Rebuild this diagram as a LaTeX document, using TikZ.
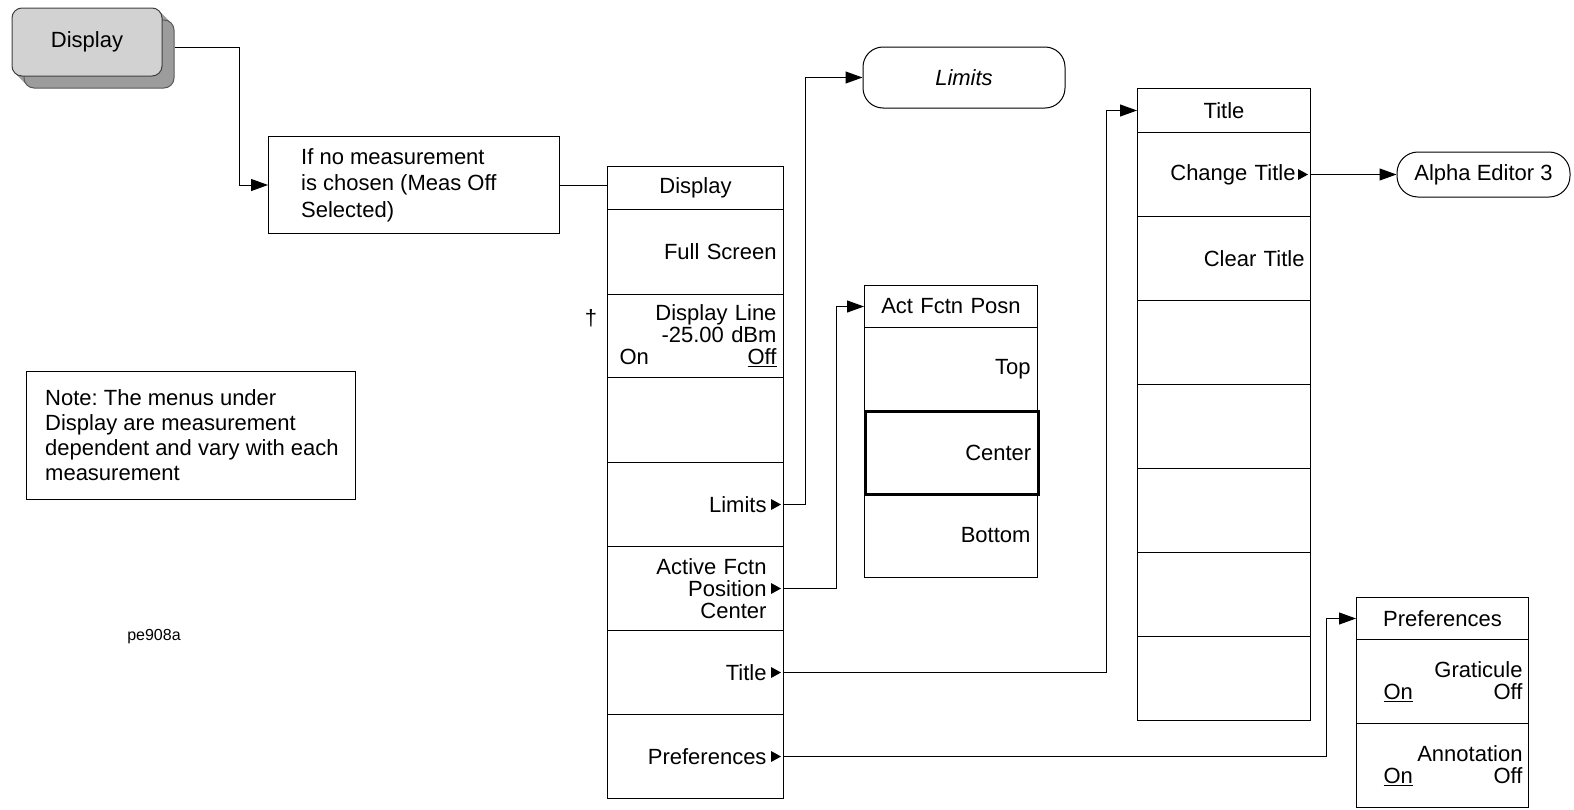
\documentclass[tikz,border=0pt]{standalone}
\usepackage{fontspec}
\setmainfont{Liberation Sans}
\frenchspacing
\usetikzlibrary{arrows.meta,calc}
\definecolor{keyface}{HTML}{D2D2D2}
\definecolor{keyshade}{HTML}{9C9C9C}
\tikzset{
  every node/.style={font=\fontsize{22pt}{22pt}\selectfont, inner sep=0pt},
  line/.style={line width=1pt, draw=black},
  arr/.style={line width=1pt, -{Triangle[length=17pt,width=12pt]}},
  cell/.style={draw, line width=1pt, anchor=north west, align=right, inner ysep=0pt},
  headcell/.style={cell, align=center},
  oval/.style={draw, line width=1pt},
  plainbox/.style={draw, line width=1pt, anchor=north west},
}
\newcommand\pointer[1]{\fill ([xshift=-3pt]#1) -- ++(-10pt,5.5pt) -- ++(0pt,-11pt) -- cycle;}
\begin{document}
\begin{tikzpicture}[x=1pt,y=-1pt]
\useasboundingbox (0,0) rectangle (1574,809);

% ---- hard key "Display"
\foreach \i in {1,...,11} {
  \fill[keyshade, rounded corners=10pt] (12+\i,8+\i) rectangle (162+\i,76+\i);
}
\node[draw=black!65, fill=keyshade, line width=1pt, rounded corners=10pt,
      minimum width=150pt, minimum height=68pt] (keysh) at (99,54) {};
\node[draw=black!75, fill=keyface, line width=1pt, rounded corners=10pt,
      minimum width=150pt, minimum height=68pt] (key) at (87,42) {Display};

% ---- "If no measurement" box
\node[plainbox, minimum width=291pt, minimum height=97pt] (ifbox) at (268,136) {};
\node[anchor=west, align=left, font=\fontsize{22pt}{26.5pt}\selectfont] (iftext)
  at ($(ifbox.west)+(33,0)$) {If no measurement\\is chosen (Meas Off\\Selected)};

% ---- note box
\node[plainbox, minimum width=329pt, minimum height=128pt] (note) at (26,371) {};
\node[anchor=west, align=left, font=\fontsize{22pt}{25pt}\selectfont] (notetext)
  at ($(note.west)+(19,0)$) {Note: The menus under\\Display are measurement\\dependent and vary with each\\measurement};

\node[font=\fontsize{16pt}{16pt}\selectfont] (fig) at (154,637) {pe908a};
\node (dag) at (591,318) {†};

% ---- Display menu
\node[headcell, text width=162pt, inner xsep=7pt, minimum height=43pt] (d0) at (607,166) {Display};
\node[cell, text width=162pt, inner xsep=7pt, minimum height=85pt] (d1) at (607,209) {Full Screen};
\node[cell, text width=162pt, inner xsep=7pt, minimum height=83pt] (d2) at (607,294)
  {Display Line\\-25.00 dBm\\\hspace*{5pt}On\hfill\underline{Off}};
\node[cell, text width=162pt, inner xsep=7pt, minimum height=85pt] (d3) at (607,377) {};
\node[cell, text width=142pt, inner xsep=17pt, minimum height=84pt] (d4) at (607,462) {Limits};
\node[cell, text width=142pt, inner xsep=17pt, minimum height=84pt] (d5) at (607,546) {Active Fctn\\Position\\Center};
\node[cell, text width=142pt, inner xsep=17pt, minimum height=84pt] (d6) at (607,630) {Title};
\node[cell, text width=142pt, inner xsep=17pt, minimum height=84pt] (d7) at (607,714) {Preferences};
\pointer{d4.east}
\pointer{d5.east}
\pointer{d6.east}
\pointer{d7.east}

% ---- Limits oval
\node[oval, rounded corners=20pt, minimum width=202pt, minimum height=61pt,
      font=\fontsize{22pt}{22pt}\selectfont\itshape] (lim) at (964,77.5) {Limits};

% ---- Act Fctn Posn menu
\node[headcell, text width=159pt, inner xsep=7pt, minimum height=42pt] (a0) at (864,285) {Act Fctn Posn};
\node[cell, text width=159pt, inner xsep=7pt, minimum height=83pt] (a1) at (864,327) {Top};
\node[cell, text width=159pt, inner xsep=7pt, minimum height=84pt] (a3) at (864,493) {Bottom};
\node[cell, line width=2.6pt, text width=159pt, inner xsep=7pt, minimum height=83pt] (a2) at (864,410) {Center};

% ---- Title menu
\node[headcell, text width=161pt, inner xsep=6pt, minimum height=44pt] (t0) at (1137,88) {Title};
\node[cell, text width=143pt, inner xsep=15pt, minimum height=84pt] (t1) at (1137,132) {Change Title};
\node[cell, text width=161pt, inner xsep=6pt, minimum height=84pt] (t2) at (1137,216) {Clear Title};
\node[cell, text width=161pt, inner xsep=6pt, minimum height=84pt] (t3) at (1137,300) {};
\node[cell, text width=161pt, inner xsep=6pt, minimum height=84pt] (t4) at (1137,384) {};
\node[cell, text width=161pt, inner xsep=6pt, minimum height=84pt] (t5) at (1137,468) {};
\node[cell, text width=161pt, inner xsep=6pt, minimum height=84pt] (t6) at (1137,552) {};
\node[cell, text width=161pt, inner xsep=6pt, minimum height=84pt] (t7) at (1137,636) {};
\pointer{t1.east}

% ---- Alpha Editor oval
\node[oval, rounded corners=21pt, minimum width=173pt, minimum height=45pt] (alpha) at (1483.5,174.5) {Alpha Editor 3};

% ---- Preferences menu
\node[headcell, text width=160pt, inner xsep=6pt, minimum height=42pt] (p0) at (1356,597) {Preferences};
\node[cell, text width=160pt, inner xsep=6pt, minimum height=84pt] (p1) at (1356,639)
  {Graticule\\\hspace*{21pt}\underline{On}\hfill Off};
\node[cell, text width=160pt, inner xsep=6pt, minimum height=84pt] (p2) at (1356,723)
  {Annotation\\\hspace*{21pt}\underline{On}\hfill Off};

% ---- connectors
\coordinate (jKey) at (239,0);
\coordinate (jLim) at (805,0);
\coordinate (jAct) at (836,0);
\coordinate (jTit) at (1106,0);
\coordinate (jPre) at (1326,0);

\draw[arr] ([yshift=7pt]keysh.east) -| (jKey |- ifbox.west) -- (ifbox.west);
\draw[line] (ifbox.east) -- (ifbox.east -| d0.west);
\draw[arr] (d4.east) -| (jLim |- lim.west) -- (lim.west);
\draw[arr] (d5.east) -| (jAct |- a0.west) -- (a0.west);
\draw[arr] (d6.east) -| (jTit |- t0.west) -- (t0.west);
\draw[arr] (t1.east) -- (alpha.west);
\draw[arr] (d7.east) -| (jPre |- p0.west) -- (p0.west);
\end{tikzpicture}
\end{document}
